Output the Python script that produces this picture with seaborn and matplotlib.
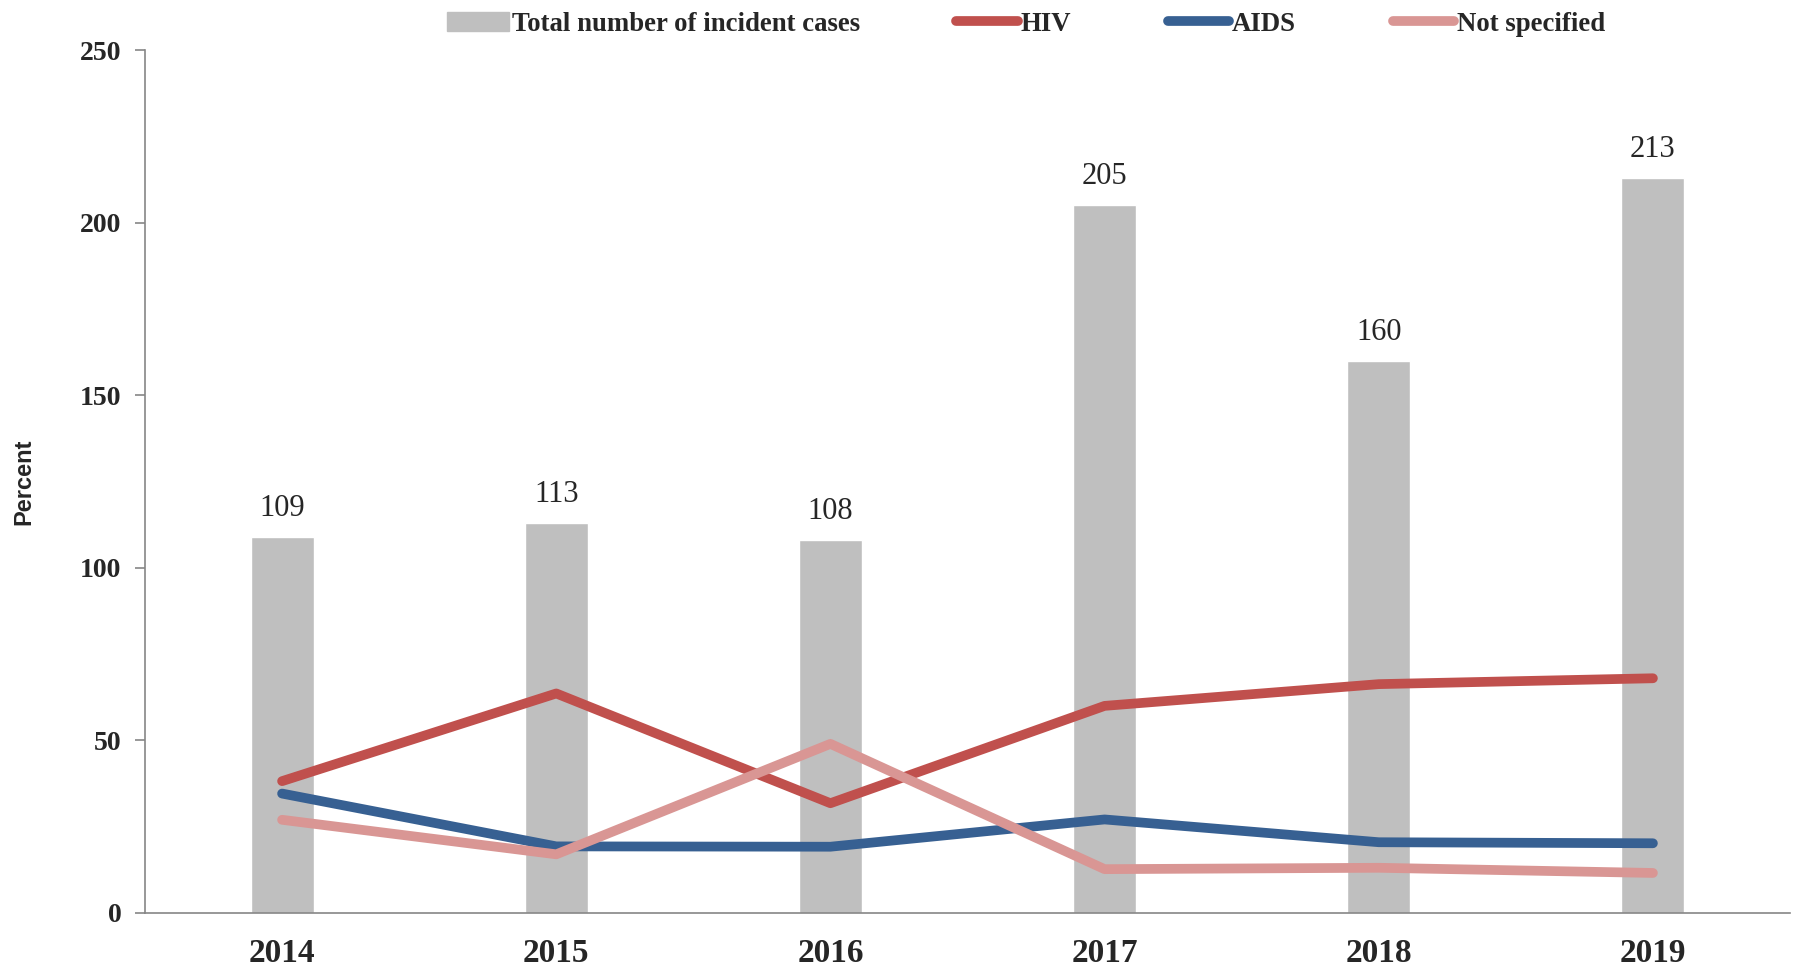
import matplotlib
matplotlib.use("Agg")
import matplotlib.pyplot as plt
import pandas as pd
import seaborn as sns
from matplotlib.lines import Line2D
from matplotlib.patches import Patch
from matplotlib.ticker import FixedLocator

years = ["2014", "2015", "2016", "2017", "2018", "2019"]
total_cases = [109, 113, 108, 205, 160, 213]
hiv = [38.2, 63.6, 31.8, 60.0, 66.3, 68.0]
aids = [34.6, 19.3, 19.2, 27.1, 20.5, 20.2]
not_specified = [27.0, 17.0, 49.0, 12.7, 13.1, 11.6]

series_names = ["HIV", "AIDS", "Not specified"]
series_colors = ["#C0504D", "#376092", "#D99694"]
bar_color = "#BFBFBF"

bars = pd.DataFrame({"year": years, "total": total_cases})
lines = pd.DataFrame({"year": years, "HIV": hiv, "AIDS": aids, "Not specified": not_specified})
lines = lines.melt(id_vars="year", var_name="type", value_name="pct")

sns.set_style("white")
plt.rcParams["font.family"] = ["Liberation Serif", "DejaVu Serif"]
plt.rcParams["lines.solid_capstyle"] = "round"
plt.rcParams["lines.solid_joinstyle"] = "round"

fig = plt.figure(figsize=(17.94, 9.69), dpi=100)
ax = fig.add_axes([145 / 1794, 1 - 913 / 969, (1790 - 145) / 1794, (913 - 50) / 969])

sns.barplot(data=bars, x="year", y="total", color=bar_color, width=0.23,
            saturation=1, ax=ax, zorder=1)
ax.bar_label(ax.containers[0], padding=10, fontsize=22, fontfamily="Liberation Serif")

sns.pointplot(data=lines, x="year", y="pct", hue="type", hue_order=series_names,
              palette=series_colors, markers="", linewidth=7, errorbar=None,
              legend=False, ax=ax)

ax.set_xlim(-0.5, 5.5)
ax.set_ylim(0, 250)
ax.set_yticks([0, 50, 100, 150, 200, 250])
ax.set_xlabel("")
ax.set_ylabel("Percent", fontsize=17, fontweight="bold",
              fontfamily="Liberation Sans", labelpad=32)

for side in ["top", "right"]:
    ax.spines[side].set_visible(False)
for side in ["left", "bottom"]:
    ax.spines[side].set_color("#868686")
    ax.spines[side].set_linewidth(1.2)

ax.xaxis.set_minor_locator(FixedLocator([i - 0.5 for i in range(7)]))
ax.tick_params(axis="x", which="major", length=0, pad=18, labelsize=24)
ax.tick_params(axis="x", which="minor", length=9, color="#868686", width=1.2, direction="out")
ax.tick_params(axis="y", length=7, color="#868686", width=1.2, direction="out",
               pad=10, labelsize=20, left=True)
for lab in ax.get_xticklabels() + ax.get_yticklabels():
    lab.set_fontweight("bold")

handles = [Patch(color=bar_color, label="Total number of incident cases")]
handles += [Line2D([], [], color=c, lw=7, label=n) for n, c in zip(series_names, series_colors)]
fig.legend(handles=handles, loc="upper center", bbox_to_anchor=(0.572, 1.013), ncol=4,
           frameon=False, handlelength=2.3, handletextpad=0.1, columnspacing=3.6,
           prop={"family": "Liberation Serif", "weight": "bold", "size": 19.3})

fig.savefig("out.png", dpi=100)
